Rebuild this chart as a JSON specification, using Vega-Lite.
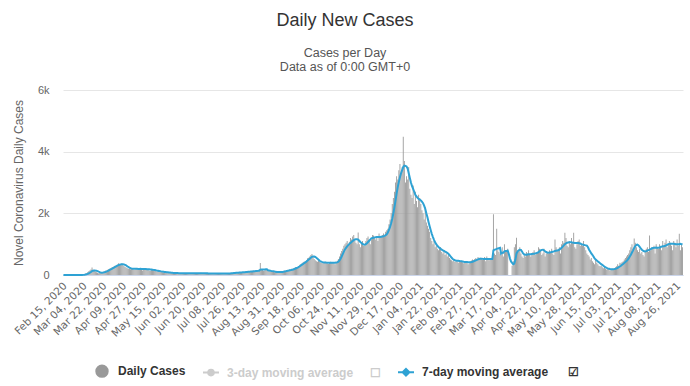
{
  "$schema": "https://vega.github.io/schema/vega-lite/v6.json",
  "width": 620,
  "height": 185,
  "autosize": {"type": "none"},
  "padding": {"left": 63, "top": 90, "right": 7, "bottom": 111},
  "background": "#ffffff",
  "config": {"font": "Liberation Sans", "view": {"stroke": null}},
  "title": {
    "text": "Daily New Cases",
    "subtitle": ["Cases per Day", "Data as of 0:00 GMT+0"],
    "frame": "group", "anchor": "middle", "dx": -28,
    "fontSize": 18, "fontWeight": "normal", "color": "#333333",
    "subtitleFontSize": 12.5, "subtitleColor": "#555555", "subtitlePadding": 17, "subtitleLineHeight": 14,
    "offset": 11
  },
  "data": {"values": [
{"d":"Feb 15, 2020","c":0,"a":0},{"d":"Feb 16, 2020","c":0,"a":0},{"d":"Feb 17, 2020","c":0,"a":0},{"d":"Feb 18, 2020","c":0,"a":0},{"d":"Feb 19, 2020","c":0,"a":0},{"d":"Feb 20, 2020","c":0,"a":0},{"d":"Feb 21, 2020","c":0,"a":0},{"d":"Feb 22, 2020","c":0,"a":0},{"d":"Feb 23, 2020","c":0,"a":0},{"d":"Feb 24, 2020","c":0,"a":0},{"d":"Feb 25, 2020","c":0,"a":0},{"d":"Feb 26, 2020","c":0,"a":0},{"d":"Feb 27, 2020","c":0,"a":0},{"d":"Feb 28, 2020","c":0,"a":0},{"d":"Feb 29, 2020","c":0,"a":0},
{"d":"Mar 01, 2020","c":2,"a":0},{"d":"Mar 02, 2020","c":5,"a":1},{"d":"Mar 03, 2020","c":8,"a":2},{"d":"Mar 04, 2020","c":15,"a":4},{"d":"Mar 05, 2020","c":30,"a":8},{"d":"Mar 06, 2020","c":45,"a":15},{"d":"Mar 07, 2020","c":60,"a":23},{"d":"Mar 08, 2020","c":90,"a":36},{"d":"Mar 09, 2020","c":120,"a":52},{"d":"Mar 10, 2020","c":150,"a":73},{"d":"Mar 11, 2020","c":180,"a":98},{"d":"Mar 12, 2020","c":240,"a":126},{"d":"Mar 13, 2020","c":170,"a":140},{"d":"Mar 14, 2020","c":130,"a":149},{"d":"Mar 15, 2020","c":110,"a":143},{"d":"Mar 16, 2020","c":90,"a":139},{"d":"Mar 17, 2020","c":70,"a":127},{"d":"Mar 18, 2020","c":60,"a":110},{"d":"Mar 19, 2020","c":65,"a":94},{"d":"Mar 20, 2020","c":70,"a":82},{"d":"Mar 21, 2020","c":75,"a":77},{"d":"Mar 22, 2020","c":95,"a":80},{"d":"Mar 23, 2020","c":110,"a":87},{"d":"Mar 24, 2020","c":130,"a":98},{"d":"Mar 25, 2020","c":150,"a":112},{"d":"Mar 26, 2020","c":170,"a":127},{"d":"Mar 27, 2020","c":190,"a":144},{"d":"Mar 28, 2020","c":200,"a":163},{"d":"Mar 29, 2020","c":220,"a":182},{"d":"Mar 30, 2020","c":240,"a":200},{"d":"Mar 31, 2020","c":260,"a":220},
{"d":"Apr 01, 2020","c":280,"a":240},{"d":"Apr 02, 2020","c":300,"a":262},{"d":"Apr 03, 2020","c":310,"a":283},{"d":"Apr 04, 2020","c":330,"a":302},{"d":"Apr 05, 2020","c":380,"a":320},{"d":"Apr 06, 2020","c":360,"a":335},{"d":"Apr 07, 2020","c":340,"a":345},{"d":"Apr 08, 2020","c":370,"a":350},{"d":"Apr 09, 2020","c":330,"a":352},{"d":"Apr 10, 2020","c":300,"a":345},{"d":"Apr 11, 2020","c":260,"a":330},{"d":"Apr 12, 2020","c":240,"a":310},{"d":"Apr 13, 2020","c":220,"a":285},{"d":"Apr 14, 2020","c":200,"a":260},{"d":"Apr 15, 2020","c":210,"a":240},{"d":"Apr 16, 2020","c":190,"a":222},{"d":"Apr 17, 2020","c":200,"a":210},{"d":"Apr 18, 2020","c":210,"a":205},{"d":"Apr 19, 2020","c":180,"a":202},{"d":"Apr 20, 2020","c":170,"a":200},{"d":"Apr 21, 2020","c":220,"a":200},{"d":"Apr 22, 2020","c":200,"a":200},{"d":"Apr 23, 2020","c":190,"a":198},{"d":"Apr 24, 2020","c":210,"a":198},{"d":"Apr 25, 2020","c":200,"a":199},{"d":"Apr 26, 2020","c":160,"a":197},{"d":"Apr 27, 2020","c":150,"a":196},{"d":"Apr 28, 2020","c":210,"a":195},{"d":"Apr 29, 2020","c":220,"a":195},{"d":"Apr 30, 2020","c":200,"a":193},
{"d":"May 01, 2020","c":190,"a":190},{"d":"May 02, 2020","c":180,"a":188},{"d":"May 03, 2020","c":150,"a":185},{"d":"May 04, 2020","c":140,"a":182},{"d":"May 05, 2020","c":190,"a":178},{"d":"May 06, 2020","c":180,"a":172},{"d":"May 07, 2020","c":170,"a":166},{"d":"May 08, 2020","c":160,"a":160},{"d":"May 09, 2020","c":130,"a":152},{"d":"May 10, 2020","c":110,"a":145},{"d":"May 11, 2020","c":150,"a":140},{"d":"May 12, 2020","c":140,"a":133},{"d":"May 13, 2020","c":120,"a":125},{"d":"May 14, 2020","c":110,"a":117},{"d":"May 15, 2020","c":90,"a":110},{"d":"May 16, 2020","c":80,"a":104},{"d":"May 17, 2020","c":100,"a":98},{"d":"May 18, 2020","c":90,"a":94},{"d":"May 19, 2020","c":80,"a":90},{"d":"May 20, 2020","c":70,"a":86},{"d":"May 21, 2020","c":90,"a":82},{"d":"May 22, 2020","c":80,"a":78},{"d":"May 23, 2020","c":60,"a":74},{"d":"May 24, 2020","c":55,"a":71},{"d":"May 25, 2020","c":75,"a":68},{"d":"May 26, 2020","c":70,"a":66},{"d":"May 27, 2020","c":65,"a":64},{"d":"May 28, 2020","c":60,"a":62},{"d":"May 29, 2020","c":55,"a":61},{"d":"May 30, 2020","c":45,"a":60},{"d":"May 31, 2020","c":65,"a":59},
{"d":"Jun 01, 2020","c":60,"a":58},{"d":"Jun 02, 2020","c":55,"a":58},{"d":"Jun 03, 2020","c":50,"a":57},{"d":"Jun 04, 2020","c":45,"a":57},{"d":"Jun 05, 2020","c":65,"a":56},{"d":"Jun 06, 2020","c":60,"a":56},{"d":"Jun 07, 2020","c":55,"a":55},{"d":"Jun 08, 2020","c":55,"a":55},{"d":"Jun 09, 2020","c":50,"a":55},{"d":"Jun 10, 2020","c":40,"a":55},{"d":"Jun 11, 2020","c":45,"a":54},{"d":"Jun 12, 2020","c":65,"a":54},{"d":"Jun 13, 2020","c":60,"a":54},{"d":"Jun 14, 2020","c":55,"a":54},{"d":"Jun 15, 2020","c":60,"a":55},{"d":"Jun 16, 2020","c":50,"a":55},{"d":"Jun 17, 2020","c":45,"a":55},{"d":"Jun 18, 2020","c":40,"a":55},{"d":"Jun 19, 2020","c":70,"a":56},{"d":"Jun 20, 2020","c":60,"a":56},{"d":"Jun 21, 2020","c":60,"a":56},{"d":"Jun 22, 2020","c":55,"a":55},{"d":"Jun 23, 2020","c":50,"a":54},{"d":"Jun 24, 2020","c":40,"a":53},{"d":"Jun 25, 2020","c":45,"a":53},{"d":"Jun 26, 2020","c":60,"a":52},{"d":"Jun 27, 2020","c":55,"a":52},{"d":"Jun 28, 2020","c":60,"a":52},{"d":"Jun 29, 2020","c":50,"a":52},{"d":"Jun 30, 2020","c":45,"a":51},
{"d":"Jul 01, 2020","c":40,"a":51},{"d":"Jul 02, 2020","c":35,"a":50},{"d":"Jul 03, 2020","c":60,"a":50},{"d":"Jul 04, 2020","c":55,"a":50},{"d":"Jul 05, 2020","c":50,"a":49},{"d":"Jul 06, 2020","c":55,"a":49},{"d":"Jul 07, 2020","c":45,"a":48},{"d":"Jul 08, 2020","c":35,"a":48},{"d":"Jul 09, 2020","c":40,"a":48},{"d":"Jul 10, 2020","c":55,"a":48},{"d":"Jul 11, 2020","c":50,"a":48},{"d":"Jul 12, 2020","c":55,"a":48},{"d":"Jul 13, 2020","c":60,"a":49},{"d":"Jul 14, 2020","c":50,"a":50},{"d":"Jul 15, 2020","c":40,"a":51},{"d":"Jul 16, 2020","c":45,"a":53},{"d":"Jul 17, 2020","c":65,"a":56},{"d":"Jul 18, 2020","c":70,"a":59},{"d":"Jul 19, 2020","c":75,"a":63},{"d":"Jul 20, 2020","c":80,"a":67},{"d":"Jul 21, 2020","c":70,"a":70},{"d":"Jul 22, 2020","c":60,"a":73},{"d":"Jul 23, 2020","c":65,"a":76},{"d":"Jul 24, 2020","c":90,"a":79},{"d":"Jul 25, 2020","c":95,"a":82},{"d":"Jul 26, 2020","c":100,"a":85},{"d":"Jul 27, 2020","c":95,"a":88},{"d":"Jul 28, 2020","c":80,"a":90},{"d":"Jul 29, 2020","c":75,"a":93},{"d":"Jul 30, 2020","c":105,"a":97},{"d":"Jul 31, 2020","c":110,"a":100},
{"d":"Aug 01, 2020","c":120,"a":104},{"d":"Aug 02, 2020","c":110,"a":108},{"d":"Aug 03, 2020","c":100,"a":110},{"d":"Aug 04, 2020","c":130,"a":113},{"d":"Aug 05, 2020","c":135,"a":117},{"d":"Aug 06, 2020","c":140,"a":121},{"d":"Aug 07, 2020","c":130,"a":125},{"d":"Aug 08, 2020","c":120,"a":128},{"d":"Aug 09, 2020","c":110,"a":131},{"d":"Aug 10, 2020","c":150,"a":135},{"d":"Aug 11, 2020","c":160,"a":140},{"d":"Aug 12, 2020","c":390,"a":175},{"d":"Aug 13, 2020","c":180,"a":178},{"d":"Aug 14, 2020","c":160,"a":180},{"d":"Aug 15, 2020","c":140,"a":181},{"d":"Aug 16, 2020","c":150,"a":182},{"d":"Aug 17, 2020","c":170,"a":183},{"d":"Aug 18, 2020","c":180,"a":184},{"d":"Aug 19, 2020","c":150,"a":152},{"d":"Aug 20, 2020","c":120,"a":147},{"d":"Aug 21, 2020","c":110,"a":141},{"d":"Aug 22, 2020","c":100,"a":131},{"d":"Aug 23, 2020","c":110,"a":126},{"d":"Aug 24, 2020","c":100,"a":119},{"d":"Aug 25, 2020","c":90,"a":111},{"d":"Aug 26, 2020","c":100,"a":106},{"d":"Aug 27, 2020","c":90,"a":100},{"d":"Aug 28, 2020","c":80,"a":96},{"d":"Aug 29, 2020","c":95,"a":94},{"d":"Aug 30, 2020","c":100,"a":94},{"d":"Aug 31, 2020","c":110,"a":96},
{"d":"Sep 01, 2020","c":120,"a":100},{"d":"Sep 02, 2020","c":130,"a":106},{"d":"Sep 03, 2020","c":140,"a":113},{"d":"Sep 04, 2020","c":130,"a":120},{"d":"Sep 05, 2020","c":150,"a":128},{"d":"Sep 06, 2020","c":160,"a":136},{"d":"Sep 07, 2020","c":170,"a":143},{"d":"Sep 08, 2020","c":190,"a":152},{"d":"Sep 09, 2020","c":180,"a":160},{"d":"Sep 10, 2020","c":200,"a":170},{"d":"Sep 11, 2020","c":210,"a":180},{"d":"Sep 12, 2020","c":230,"a":194},{"d":"Sep 13, 2020","c":250,"a":210},{"d":"Sep 14, 2020","c":260,"a":226},{"d":"Sep 15, 2020","c":240,"a":240},{"d":"Sep 16, 2020","c":290,"a":260},{"d":"Sep 17, 2020","c":330,"a":285},{"d":"Sep 18, 2020","c":350,"a":310},{"d":"Sep 19, 2020","c":380,"a":335},{"d":"Sep 20, 2020","c":410,"a":360},{"d":"Sep 21, 2020","c":440,"a":388},{"d":"Sep 22, 2020","c":420,"a":410},{"d":"Sep 23, 2020","c":480,"a":440},{"d":"Sep 24, 2020","c":540,"a":470},{"d":"Sep 25, 2020","c":560,"a":500},{"d":"Sep 26, 2020","c":600,"a":530},{"d":"Sep 27, 2020","c":650,"a":560},{"d":"Sep 28, 2020","c":680,"a":590},{"d":"Sep 29, 2020","c":580,"a":600},{"d":"Sep 30, 2020","c":520,"a":598},
{"d":"Oct 01, 2020","c":480,"a":585},{"d":"Oct 02, 2020","c":450,"a":560},{"d":"Oct 03, 2020","c":430,"a":530},{"d":"Oct 04, 2020","c":460,"a":495},{"d":"Oct 05, 2020","c":420,"a":460},{"d":"Oct 06, 2020","c":400,"a":438},{"d":"Oct 07, 2020","c":390,"a":425},{"d":"Oct 08, 2020","c":380,"a":415},{"d":"Oct 09, 2020","c":410,"a":408},{"d":"Oct 10, 2020","c":430,"a":405},{"d":"Oct 11, 2020","c":400,"a":402},{"d":"Oct 12, 2020","c":370,"a":400},{"d":"Oct 13, 2020","c":360,"a":398},{"d":"Oct 14, 2020","c":420,"a":398},{"d":"Oct 15, 2020","c":430,"a":400},{"d":"Oct 16, 2020","c":410,"a":400},{"d":"Oct 17, 2020","c":390,"a":399},{"d":"Oct 18, 2020","c":380,"a":398},{"d":"Oct 19, 2020","c":350,"a":398},{"d":"Oct 20, 2020","c":430,"a":402},{"d":"Oct 21, 2020","c":460,"a":410},{"d":"Oct 22, 2020","c":520,"a":430},{"d":"Oct 23, 2020","c":600,"a":470},{"d":"Oct 24, 2020","c":700,"a":530},{"d":"Oct 25, 2020","c":780,"a":600},{"d":"Oct 26, 2020","c":850,"a":680},{"d":"Oct 27, 2020","c":950,"a":760},{"d":"Oct 28, 2020","c":1000,"a":830},{"d":"Oct 29, 2020","c":1050,"a":880},{"d":"Oct 30, 2020","c":1100,"a":930},{"d":"Oct 31, 2020","c":1000,"a":970},
{"d":"Nov 01, 2020","c":1080,"a":1010},{"d":"Nov 02, 2020","c":1200,"a":1040},{"d":"Nov 03, 2020","c":1150,"a":1070},{"d":"Nov 04, 2020","c":1250,"a":1100},{"d":"Nov 05, 2020","c":1300,"a":1130},{"d":"Nov 06, 2020","c":1100,"a":1150},{"d":"Nov 07, 2020","c":1050,"a":1160},{"d":"Nov 08, 2020","c":1000,"a":1160},{"d":"Nov 09, 2020","c":1380,"a":1150},{"d":"Nov 10, 2020","c":1000,"a":1110},{"d":"Nov 11, 2020","c":900,"a":1070},{"d":"Nov 12, 2020","c":1050,"a":1040},{"d":"Nov 13, 2020","c":1100,"a":1010},{"d":"Nov 14, 2020","c":950,"a":990},{"d":"Nov 15, 2020","c":950,"a":985},{"d":"Nov 16, 2020","c":1100,"a":1000},{"d":"Nov 17, 2020","c":1200,"a":1030},{"d":"Nov 18, 2020","c":1250,"a":1070},{"d":"Nov 19, 2020","c":1150,"a":1110},{"d":"Nov 20, 2020","c":1000,"a":1150},{"d":"Nov 21, 2020","c":1150,"a":1190},{"d":"Nov 22, 2020","c":1300,"a":1200},{"d":"Nov 23, 2020","c":1280,"a":1210},{"d":"Nov 24, 2020","c":1200,"a":1220},{"d":"Nov 25, 2020","c":1150,"a":1225},{"d":"Nov 26, 2020","c":1250,"a":1230},{"d":"Nov 27, 2020","c":1100,"a":1230},{"d":"Nov 28, 2020","c":1350,"a":1230},{"d":"Nov 29, 2020","c":1200,"a":1235},{"d":"Nov 30, 2020","c":1250,"a":1240},
{"d":"Dec 01, 2020","c":1300,"a":1245},{"d":"Dec 02, 2020","c":1350,"a":1255},{"d":"Dec 03, 2020","c":1250,"a":1270},{"d":"Dec 04, 2020","c":1400,"a":1290},{"d":"Dec 05, 2020","c":1450,"a":1320},{"d":"Dec 06, 2020","c":1500,"a":1380},{"d":"Dec 07, 2020","c":1650,"a":1460},{"d":"Dec 08, 2020","c":1800,"a":1560},{"d":"Dec 09, 2020","c":2000,"a":1680},{"d":"Dec 10, 2020","c":2300,"a":1820},{"d":"Dec 11, 2020","c":2500,"a":2000},{"d":"Dec 12, 2020","c":2700,"a":2200},{"d":"Dec 13, 2020","c":3000,"a":2420},{"d":"Dec 14, 2020","c":3200,"a":2650},{"d":"Dec 15, 2020","c":3100,"a":2850},{"d":"Dec 16, 2020","c":3400,"a":3020},{"d":"Dec 17, 2020","c":3600,"a":3170},{"d":"Dec 18, 2020","c":3300,"a":3300},{"d":"Dec 19, 2020","c":3500,"a":3400},{"d":"Dec 20, 2020","c":4480,"a":3500},{"d":"Dec 21, 2020","c":3700,"a":3550},{"d":"Dec 22, 2020","c":3000,"a":3540},{"d":"Dec 23, 2020","c":3200,"a":3520},{"d":"Dec 24, 2020","c":3100,"a":3450},{"d":"Dec 25, 2020","c":3500,"a":3300},{"d":"Dec 26, 2020","c":2800,"a":3150},{"d":"Dec 27, 2020","c":2600,"a":3000},{"d":"Dec 28, 2020","c":2500,"a":2880},{"d":"Dec 29, 2020","c":2900,"a":2790},{"d":"Dec 30, 2020","c":2300,"a":2700},{"d":"Dec 31, 2020","c":2700,"a":2600},
{"d":"Jan 01, 2021","c":2400,"a":2550},{"d":"Jan 02, 2021","c":2200,"a":2500},{"d":"Jan 03, 2021","c":2600,"a":2470},{"d":"Jan 04, 2021","c":2500,"a":2450},{"d":"Jan 05, 2021","c":2300,"a":2420},{"d":"Jan 06, 2021","c":2100,"a":2380},{"d":"Jan 07, 2021","c":2000,"a":2330},{"d":"Jan 08, 2021","c":1800,"a":2250},{"d":"Jan 09, 2021","c":2200,"a":2150},{"d":"Jan 10, 2021","c":1700,"a":2000},{"d":"Jan 11, 2021","c":1600,"a":1870},{"d":"Jan 12, 2021","c":1500,"a":1720},{"d":"Jan 13, 2021","c":1400,"a":1580},{"d":"Jan 14, 2021","c":1200,"a":1450},{"d":"Jan 15, 2021","c":1100,"a":1330},{"d":"Jan 16, 2021","c":1000,"a":1230},{"d":"Jan 17, 2021","c":1100,"a":1140},{"d":"Jan 18, 2021","c":900,"a":1060},{"d":"Jan 19, 2021","c":950,"a":1000},{"d":"Jan 20, 2021","c":850,"a":950},{"d":"Jan 21, 2021","c":800,"a":910},{"d":"Jan 22, 2021","c":850,"a":880},{"d":"Jan 23, 2021","c":900,"a":850},{"d":"Jan 24, 2021","c":750,"a":820},{"d":"Jan 25, 2021","c":700,"a":800},{"d":"Jan 26, 2021","c":800,"a":780},{"d":"Jan 27, 2021","c":650,"a":760},{"d":"Jan 28, 2021","c":700,"a":740},{"d":"Jan 29, 2021","c":600,"a":720},{"d":"Jan 30, 2021","c":650,"a":690},{"d":"Jan 31, 2021","c":550,"a":650},
{"d":"Feb 01, 2021","c":500,"a":600},{"d":"Feb 02, 2021","c":480,"a":560},{"d":"Feb 03, 2021","c":450,"a":520},{"d":"Feb 04, 2021","c":500,"a":495},{"d":"Feb 05, 2021","c":420,"a":480},{"d":"Feb 06, 2021","c":480,"a":470},{"d":"Feb 07, 2021","c":450,"a":465},{"d":"Feb 08, 2021","c":400,"a":460},{"d":"Feb 09, 2021","c":470,"a":455},{"d":"Feb 10, 2021","c":430,"a":450},{"d":"Feb 11, 2021","c":460,"a":445},{"d":"Feb 12, 2021","c":410,"a":440},{"d":"Feb 13, 2021","c":380,"a":430},{"d":"Feb 14, 2021","c":420,"a":425},{"d":"Feb 15, 2021","c":400,"a":420},{"d":"Feb 16, 2021","c":440,"a":418},{"d":"Feb 17, 2021","c":350,"a":415},{"d":"Feb 18, 2021","c":380,"a":413},{"d":"Feb 19, 2021","c":450,"a":413},{"d":"Feb 20, 2021","c":470,"a":420},{"d":"Feb 21, 2021","c":500,"a":430},{"d":"Feb 22, 2021","c":480,"a":445},{"d":"Feb 23, 2021","c":520,"a":460},{"d":"Feb 24, 2021","c":550,"a":475},{"d":"Feb 25, 2021","c":500,"a":490},{"d":"Feb 26, 2021","c":580,"a":505},{"d":"Feb 27, 2021","c":520,"a":520},{"d":"Feb 28, 2021","c":560,"a":530},
{"d":"Mar 01, 2021","c":520,"a":530},{"d":"Mar 02, 2021","c":500,"a":525},{"d":"Mar 03, 2021","c":550,"a":522},{"d":"Mar 04, 2021","c":580,"a":520},{"d":"Mar 05, 2021","c":450,"a":518},{"d":"Mar 06, 2021","c":600,"a":520},{"d":"Mar 07, 2021","c":500,"a":520},{"d":"Mar 08, 2021","c":480,"a":518},{"d":"Mar 09, 2021","c":520,"a":517},{"d":"Mar 10, 2021","c":500,"a":515},{"d":"Mar 11, 2021","c":560,"a":517},{"d":"Mar 12, 2021","c":1970,"a":800},{"d":"Mar 13, 2021","c":700,"a":820},{"d":"Mar 14, 2021","c":650,"a":830},{"d":"Mar 15, 2021","c":1500,"a":845},{"d":"Mar 16, 2021","c":800,"a":860},{"d":"Mar 17, 2021","c":750,"a":870},{"d":"Mar 18, 2021","c":700,"a":880},{"d":"Mar 19, 2021","c":650,"a":690},{"d":"Mar 20, 2021","c":900,"a":720},{"d":"Mar 21, 2021","c":600,"a":720},{"d":"Mar 22, 2021","c":1000,"a":770},{"d":"Mar 23, 2021","c":800,"a":780},{"d":"Mar 24, 2021","c":750,"a":780},{"d":"Mar 25, 2021","c":850,"a":790},{"d":"Mar 26, 2021","c":0,"a":680},{"d":"Mar 27, 2021","c":0,"a":540},{"d":"Mar 28, 2021","c":0,"a":440},{"d":"Mar 29, 2021","c":300,"a":390},{"d":"Mar 30, 2021","c":450,"a":350},{"d":"Mar 31, 2021","c":900,"a":370},
{"d":"Apr 01, 2021","c":1000,"a":500},{"d":"Apr 02, 2021","c":1210,"a":700},{"d":"Apr 03, 2021","c":800,"a":760},{"d":"Apr 04, 2021","c":750,"a":800},{"d":"Apr 05, 2021","c":900,"a":820},{"d":"Apr 06, 2021","c":700,"a":815},{"d":"Apr 07, 2021","c":600,"a":760},{"d":"Apr 08, 2021","c":550,"a":700},{"d":"Apr 09, 2021","c":650,"a":670},{"d":"Apr 10, 2021","c":600,"a":655},{"d":"Apr 11, 2021","c":750,"a":660},{"d":"Apr 12, 2021","c":700,"a":665},{"d":"Apr 13, 2021","c":800,"a":670},{"d":"Apr 14, 2021","c":650,"a":670},{"d":"Apr 15, 2021","c":600,"a":675},{"d":"Apr 16, 2021","c":700,"a":680},{"d":"Apr 17, 2021","c":750,"a":685},{"d":"Apr 18, 2021","c":800,"a":690},{"d":"Apr 19, 2021","c":650,"a":700},{"d":"Apr 20, 2021","c":700,"a":710},{"d":"Apr 21, 2021","c":750,"a":720},{"d":"Apr 22, 2021","c":900,"a":740},{"d":"Apr 23, 2021","c":850,"a":770},{"d":"Apr 24, 2021","c":800,"a":800},{"d":"Apr 25, 2021","c":650,"a":815},{"d":"Apr 26, 2021","c":700,"a":820},{"d":"Apr 27, 2021","c":850,"a":800},{"d":"Apr 28, 2021","c":600,"a":770},{"d":"Apr 29, 2021","c":700,"a":745},{"d":"Apr 30, 2021","c":750,"a":730},
{"d":"May 01, 2021","c":700,"a":725},{"d":"May 02, 2021","c":800,"a":730},{"d":"May 03, 2021","c":750,"a":735},{"d":"May 04, 2021","c":850,"a":745},{"d":"May 05, 2021","c":700,"a":755},{"d":"May 06, 2021","c":650,"a":765},{"d":"May 07, 2021","c":1150,"a":780},{"d":"May 08, 2021","c":900,"a":790},{"d":"May 09, 2021","c":800,"a":795},{"d":"May 10, 2021","c":850,"a":800},{"d":"May 11, 2021","c":900,"a":820},{"d":"May 12, 2021","c":700,"a":850},{"d":"May 13, 2021","c":1000,"a":880},{"d":"May 14, 2021","c":1100,"a":920},{"d":"May 15, 2021","c":1050,"a":960},{"d":"May 16, 2021","c":1370,"a":1000},{"d":"May 17, 2021","c":1200,"a":1030},{"d":"May 18, 2021","c":950,"a":1045},{"d":"May 19, 2021","c":900,"a":1055},{"d":"May 20, 2021","c":1100,"a":1060},{"d":"May 21, 2021","c":1000,"a":1065},{"d":"May 22, 2021","c":1200,"a":1060},{"d":"May 23, 2021","c":1050,"a":1050},{"d":"May 24, 2021","c":1370,"a":1045},{"d":"May 25, 2021","c":900,"a":1040},{"d":"May 26, 2021","c":850,"a":1040},{"d":"May 27, 2021","c":1000,"a":1040},{"d":"May 28, 2021","c":1100,"a":1035},{"d":"May 29, 2021","c":1150,"a":1030},{"d":"May 30, 2021","c":950,"a":1020},{"d":"May 31, 2021","c":1000,"a":1000},
{"d":"Jun 01, 2021","c":950,"a":990},{"d":"Jun 02, 2021","c":1100,"a":980},{"d":"Jun 03, 2021","c":900,"a":970},{"d":"Jun 04, 2021","c":800,"a":960},{"d":"Jun 05, 2021","c":700,"a":950},{"d":"Jun 06, 2021","c":650,"a":900},{"d":"Jun 07, 2021","c":600,"a":820},{"d":"Jun 08, 2021","c":500,"a":760},{"d":"Jun 09, 2021","c":550,"a":700},{"d":"Jun 10, 2021","c":450,"a":655},{"d":"Jun 11, 2021","c":400,"a":600},{"d":"Jun 12, 2021","c":350,"a":540},{"d":"Jun 13, 2021","c":500,"a":500},{"d":"Jun 14, 2021","c":400,"a":470},{"d":"Jun 15, 2021","c":350,"a":440},{"d":"Jun 16, 2021","c":300,"a":410},{"d":"Jun 17, 2021","c":280,"a":380},{"d":"Jun 18, 2021","c":300,"a":350},{"d":"Jun 19, 2021","c":250,"a":330},{"d":"Jun 20, 2021","c":220,"a":300},{"d":"Jun 21, 2021","c":250,"a":270},{"d":"Jun 22, 2021","c":200,"a":250},{"d":"Jun 23, 2021","c":180,"a":230},{"d":"Jun 24, 2021","c":220,"a":215},{"d":"Jun 25, 2021","c":200,"a":205},{"d":"Jun 26, 2021","c":150,"a":195},{"d":"Jun 27, 2021","c":180,"a":190},{"d":"Jun 28, 2021","c":200,"a":188},{"d":"Jun 29, 2021","c":170,"a":185},{"d":"Jun 30, 2021","c":220,"a":190},
{"d":"Jul 01, 2021","c":250,"a":200},{"d":"Jul 02, 2021","c":280,"a":215},{"d":"Jul 03, 2021","c":350,"a":235},{"d":"Jul 04, 2021","c":300,"a":255},{"d":"Jul 05, 2021","c":400,"a":275},{"d":"Jul 06, 2021","c":380,"a":300},{"d":"Jul 07, 2021","c":420,"a":330},{"d":"Jul 08, 2021","c":450,"a":360},{"d":"Jul 09, 2021","c":500,"a":390},{"d":"Jul 10, 2021","c":550,"a":420},{"d":"Jul 11, 2021","c":600,"a":450},{"d":"Jul 12, 2021","c":650,"a":490},{"d":"Jul 13, 2021","c":700,"a":540},{"d":"Jul 14, 2021","c":800,"a":600},{"d":"Jul 15, 2021","c":900,"a":660},{"d":"Jul 16, 2021","c":1000,"a":730},{"d":"Jul 17, 2021","c":850,"a":800},{"d":"Jul 18, 2021","c":1180,"a":880},{"d":"Jul 19, 2021","c":1050,"a":940},{"d":"Jul 20, 2021","c":900,"a":975},{"d":"Jul 21, 2021","c":800,"a":985},{"d":"Jul 22, 2021","c":750,"a":960},{"d":"Jul 23, 2021","c":850,"a":910},{"d":"Jul 24, 2021","c":700,"a":860},{"d":"Jul 25, 2021","c":750,"a":820},{"d":"Jul 26, 2021","c":650,"a":790},{"d":"Jul 27, 2021","c":600,"a":770},{"d":"Jul 28, 2021","c":800,"a":765},{"d":"Jul 29, 2021","c":850,"a":775},{"d":"Jul 30, 2021","c":900,"a":790},{"d":"Jul 31, 2021","c":750,"a":805},
{"d":"Aug 01, 2021","c":1280,"a":820},{"d":"Aug 02, 2021","c":800,"a":840},{"d":"Aug 03, 2021","c":900,"a":860},{"d":"Aug 04, 2021","c":850,"a":875},{"d":"Aug 05, 2021","c":950,"a":880},{"d":"Aug 06, 2021","c":700,"a":885},{"d":"Aug 07, 2021","c":1000,"a":890},{"d":"Aug 08, 2021","c":900,"a":880},{"d":"Aug 09, 2021","c":850,"a":880},{"d":"Aug 10, 2021","c":1000,"a":890},{"d":"Aug 11, 2021","c":950,"a":905},{"d":"Aug 12, 2021","c":800,"a":920},{"d":"Aug 13, 2021","c":1100,"a":930},{"d":"Aug 14, 2021","c":950,"a":935},{"d":"Aug 15, 2021","c":1050,"a":940},{"d":"Aug 16, 2021","c":1150,"a":960},{"d":"Aug 17, 2021","c":900,"a":980},{"d":"Aug 18, 2021","c":1000,"a":1000},{"d":"Aug 19, 2021","c":1100,"a":1010},{"d":"Aug 20, 2021","c":1050,"a":1015},{"d":"Aug 21, 2021","c":950,"a":1015},{"d":"Aug 22, 2021","c":800,"a":1015},{"d":"Aug 23, 2021","c":1100,"a":1010},{"d":"Aug 24, 2021","c":1050,"a":1005},{"d":"Aug 25, 2021","c":900,"a":1000},{"d":"Aug 26, 2021","c":1150,"a":1000},{"d":"Aug 27, 2021","c":950,"a":995},{"d":"Aug 28, 2021","c":1340,"a":1000},{"d":"Aug 29, 2021","c":800,"a":1010},{"d":"Aug 30, 2021","c":1000,"a":1000},{"d":"Aug 31, 2021","c":900,"a":995}
  ]},
  "layer": [
    {
      "mark": {"type": "bar"},
      "encoding": {
        "x": {
          "field": "d", "type": "ordinal", "sort": null, "title": null,
          "scale": {"paddingInner": 0.2, "paddingOuter": 0},
          "axis": {
            "values": ["Feb 15, 2020","Mar 04, 2020","Mar 22, 2020","Apr 09, 2020","Apr 27, 2020","May 15, 2020","Jun 02, 2020","Jun 20, 2020","Jul 08, 2020","Jul 26, 2020","Aug 13, 2020","Aug 31, 2020","Sep 18, 2020","Oct 06, 2020","Oct 24, 2020","Nov 11, 2020","Nov 29, 2020","Dec 17, 2020","Jan 04, 2021","Jan 22, 2021","Feb 09, 2021","Feb 27, 2021","Mar 17, 2021","Apr 04, 2021","Apr 22, 2021","May 10, 2021","May 28, 2021","Jun 15, 2021","Jul 03, 2021","Jul 21, 2021","Aug 08, 2021","Aug 26, 2021"],
            "labelAngle": -45, "labelAlign": "right", "labelBaseline": "middle",
            "labelFont": "DejaVu Sans", "labelFontSize": 10.5, "labelColor": "#666666", "labelPadding": 9, "labelOffset": 2,
            "ticks": false, "grid": false, "domainColor": "#ccd6eb",
            "labelOverlap": false, "labelBound": false
          }
        },
        "y": {
          "field": "c", "type": "quantitative", "title": "Novel Coronavirus Daily Cases",
          "scale": {"domain": [0, 6000], "nice": false},
          "axis": {
            "values": [0, 2000, 4000, 6000],
            "labelExpr": "datum.value == 0 ? '0' : (datum.value / 1000) + 'k'",
            "labelFontSize": 11, "labelColor": "#666666", "labelPadding": 14,
            "titleFontSize": 12, "titleFontWeight": "normal", "titleColor": "#666666", "titlePadding": 12,
            "domain": false, "ticks": false, "gridColor": "#e6e6e6"
          }
        },
        "color": {
          "datum": "Daily Cases",
          "scale": {"domain": ["Daily Cases", "3-day moving average", "7-day moving average"], "range": ["#999999", "#cccccc", "#2ea2d4"]},
          "legend": {
            "orient": "none", "legendX": 30, "legendY": 272, "direction": "horizontal", "title": null,
            "labelFontSize": 12, "labelFontWeight": "bold", "labelColor": "#333333",
            "symbolSize": 130, "columnPadding": 13, "labelOffset": 7,
            "labelExpr": "datum.label == 'Daily Cases' ? datum.label + '\u00a0\u00a0' : datum.label == '3-day moving average' ? datum.label + '\u00a0\u00a0\u00a0\u00a0\u00a0\u2610' : datum.label + '\u00a0\u00a0\u00a0\u00a0\u00a0\u00a0\u2611'",
            "encode": {
              "symbols": {"update": {
                "shape": {"signal": "datum.value == 'Daily Cases' ? 'circle' : datum.value == '3-day moving average' ? 'M-1,0L1,0M-0.35,0A0.35,0.35 0 1,0 0.35,0A0.35,0.35 0 1,0 -0.35,0Z' : 'M-1,0L1,0M0,-0.42L0.42,0L0,0.42L-0.42,0Z'"},
                "fill": {"signal": "datum.value == 'Daily Cases' ? '#999999' : datum.value == '3-day moving average' ? '#cccccc' : '#2ea2d4'"},
                "stroke": {"signal": "datum.value == 'Daily Cases' ? '#999999' : datum.value == '3-day moving average' ? '#cccccc' : '#2ea2d4'"},
                "strokeWidth": {"value": 2},
                "size": {"signal": "datum.value == 'Daily Cases' ? 130 : 256"}
              }},
              "labels": {"update": {"fill": {"signal": "datum.value == '3-day moving average' ? '#cccccc' : '#333333'"}}}
            }
          }
        }
      }
    },
    {
      "mark": {"type": "line", "strokeWidth": 2},
      "encoding": {
        "x": {"field": "d", "type": "ordinal", "sort": null, "title": null},
        "y": {"field": "a", "type": "quantitative", "title": "Novel Coronavirus Daily Cases"},
        "color": {"datum": "7-day moving average"}
      }
    }
  ]
}
